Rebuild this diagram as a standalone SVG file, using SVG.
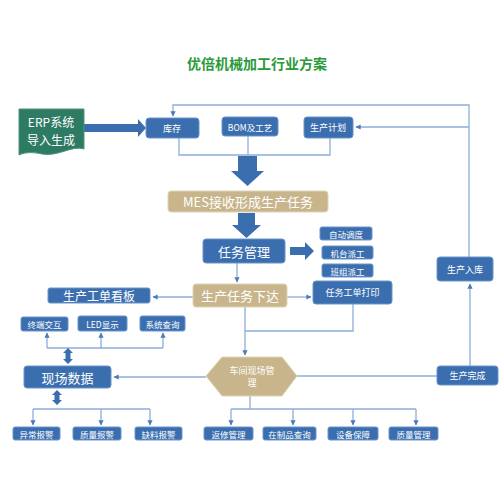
<svg xmlns="http://www.w3.org/2000/svg" width="500" height="500" viewBox="0 0 500 500">
<defs>
<style>
.b{fill:#3b6eae;stroke:#6b94c8;stroke-width:1}
.t{fill:#c8b58c;stroke:#e0d4b6;stroke-width:1}
.w{fill:#fff;font-family:"Noto Sans CJK SC","Liberation Sans",sans-serif;text-anchor:middle;dominant-baseline:central}
.c{fill:none;stroke:#8eaed8;stroke-width:1.3}
.ta{fill:#3b6eae}
</style>
<marker id="a" viewBox="0 0 10 10" refX="9" refY="5" markerWidth="4" markerHeight="4" orient="auto"><path d="M0,0L10,5L0,10z" fill="#4a7ab8"/></marker>
</defs>
<rect width="500" height="500" fill="#fff"/>
<text x="257" y="63" font-family="'Noto Sans CJK SC',sans-serif" font-size="14" font-weight="bold" fill="#2a9a3c" text-anchor="middle" dominant-baseline="central">优倍机械加工行业方案</text>

<g id="connectors">
<polyline class="c" points="469,257 469,105 173,105 173,116" marker-end="url(#a)"/>
<polyline class="c" points="469,127 356,127" marker-end="url(#a)"/>
<polyline class="c" points="179,138 179,155 330,155 330,138"/>
<line class="c" x1="248" y1="136" x2="248" y2="155"/>
<polyline class="c" points="470,366 470,284" marker-end="url(#a)"/>
<polyline class="c" points="237,263 237,282" marker-end="url(#a)"/>
<polyline class="c" points="193,297 153,297" marker-end="url(#a)"/>
<polyline class="c" points="287,297 311,297" marker-end="url(#a)"/>
<polyline class="c" points="245,307 245,355" marker-end="url(#a)"/>
<polyline class="c" points="353,304 353,331 245,331"/>
<line class="c" x1="437" y1="376" x2="297" y2="376"/>
<polyline class="c" points="206,377 114,377" marker-end="url(#a)"/>
<polyline class="c" points="47,348 163,348"/>
<polyline class="c" points="47,348 47,333" marker-end="url(#a)"/>
<polyline class="c" points="101,348 101,333" marker-end="url(#a)"/>
<polyline class="c" points="163,348 163,333" marker-end="url(#a)"/>
<polyline class="c" points="33,409 150,409"/>
<polyline class="c" points="33,409 33,425" marker-end="url(#a)"/>
<polyline class="c" points="101,409 101,425" marker-end="url(#a)"/>
<polyline class="c" points="150,409 150,425" marker-end="url(#a)"/>
<polyline class="c" points="250,396 250,409"/>
<polyline class="c" points="231,409 416,409"/>
<polyline class="c" points="231,409 231,425" marker-end="url(#a)"/>
<polyline class="c" points="293,409 293,425" marker-end="url(#a)"/>
<polyline class="c" points="353,409 353,425" marker-end="url(#a)"/>
<polyline class="c" points="416,409 416,425" marker-end="url(#a)"/>
<path class="ta" d="M84,124H138V119L146,128L138,137V132H84Z"/>
<path class="ta" d="M238,156H257V171H264L247.5,186L231,171H238Z"/>
<path class="ta" d="M238,213H255V225H261L246.5,238L232,225H238Z"/>
<path class="ta" d="M290,247H305V242L314,251L305,260V255H290Z"/>
<path class="ta" d="M68,348L73,353H70.5V359H73L68,364L63,359H65.5V353H63Z"/>
<path class="ta" d="M57,390L62,395H59.5V400H62L57,405L52,400H54.5V395H52Z"/>
</g>

<g id="erp"><path d="M19,109H84V149C72,145 58,157 42,154C32,152 26,152 19,155Z" fill="#2e7b64" stroke="#4f957f"/><text class="w" x="51" y="121" font-size="12">ERP系统</text><text class="w" x="51" y="139" font-size="12">导入生成</text></g>
<g id="kucun"><rect class="b" x="146" y="118" width="53" height="20" rx="3"/><text class="w" x="172" y="128" font-size="9">库存</text></g>
<g id="bom"><rect class="b" x="222" y="117" width="56" height="19" rx="3"/><text class="w" x="250" y="126.5" font-size="8.5">BOM及工艺</text></g>
<g id="plan"><rect class="b" x="304" y="117" width="49" height="21" rx="3"/><text class="w" x="328" y="127.5" font-size="9">生产计划</text></g>
<g id="mes"><rect class="t" x="168" y="191" width="160" height="21" rx="3"/><text class="w" x="248" y="201.5" font-size="13">MES接收形成生产任务</text></g>
<g id="task"><rect class="b" x="203" y="239" width="82" height="24" rx="3"/><text class="w" x="244" y="251" font-size="13">任务管理</text></g>
<g id="auto"><rect class="b" x="320" y="227" width="52" height="13" rx="2"/><text class="w" x="346" y="233.5" font-size="8.5">自动调度</text></g>
<g id="machine"><rect class="b" x="322" y="246" width="51" height="13" rx="2"/><text class="w" x="347.5" y="252.5" font-size="8.5">机台派工</text></g>
<g id="team"><rect class="b" x="322" y="264" width="51" height="13" rx="2"/><text class="w" x="347.5" y="270.5" font-size="8.5">班组派工</text></g>
<g id="print"><rect class="b" x="313" y="281" width="79" height="23" rx="3"/><text class="w" x="352.5" y="292.5" font-size="9">任务工单打印</text></g>
<g id="issue"><rect class="t" x="193" y="284" width="94" height="23" rx="3"/><text class="w" x="240" y="295.5" font-size="13">生产任务下达</text></g>
<g id="board"><rect class="b" x="48" y="288" width="102" height="15" rx="2"/><text class="w" x="99" y="295.5" font-size="12">生产工单看板</text></g>
<g id="terminal"><rect class="b" x="21" y="317" width="47" height="14" rx="2"/><text class="w" x="44.5" y="324" font-size="8.5">终端交互</text></g>
<g id="led"><rect class="b" x="78" y="316" width="49" height="15" rx="2"/><text class="w" x="102.5" y="323.5" font-size="8.5">LED显示</text></g>
<g id="query"><rect class="b" x="140" y="316" width="45" height="15" rx="2"/><text class="w" x="162.5" y="323.5" font-size="8.5">系统查询</text></g>
<g id="field"><rect class="b" x="24" y="366" width="87" height="22" rx="3"/><text class="w" x="67.5" y="377" font-size="13">现场数据</text></g>
<g id="workshop"><polygon points="206,376 222,357 282,357 297,376 282,396 222,396" fill="#c8b58c" stroke="#e0d4b6"/><text class="w" x="252" y="370" font-size="9">车间现场管</text><text class="w" x="252" y="382" font-size="9">理</text></g>
<g id="instock"><rect class="b" x="437" y="257" width="56" height="24" rx="3"/><text class="w" x="465" y="269" font-size="9">生产入库</text></g>
<g id="done"><rect class="b" x="437" y="366" width="61" height="19" rx="3"/><text class="w" x="467.5" y="375.5" font-size="9">生产完成</text></g>
<g id="abn"><rect class="b" x="13" y="427" width="47" height="13" rx="2"/><text class="w" x="36.5" y="433.5" font-size="8.5">异常报警</text></g>
<g id="qa"><rect class="b" x="73" y="427" width="48" height="13" rx="2"/><text class="w" x="97" y="433.5" font-size="8.5">质量报警</text></g>
<g id="lack"><rect class="b" x="135" y="427" width="47" height="13" rx="2"/><text class="w" x="158.5" y="433.5" font-size="8.5">缺料报警</text></g>
<g id="repair"><rect class="b" x="204" y="427" width="49" height="13" rx="2"/><text class="w" x="228.5" y="433.5" font-size="8.5">返修管理</text></g>
<g id="wip"><rect class="b" x="263" y="427" width="53" height="13" rx="2"/><text class="w" x="289.5" y="433.5" font-size="8.5">在制品查询</text></g>
<g id="equip"><rect class="b" x="328" y="427" width="50" height="13" rx="2"/><text class="w" x="353" y="433.5" font-size="8.5">设备保障</text></g>
<g id="qm"><rect class="b" x="389" y="427" width="49" height="13" rx="2"/><text class="w" x="413.5" y="433.5" font-size="8.5">质量管理</text></g>
</svg>
